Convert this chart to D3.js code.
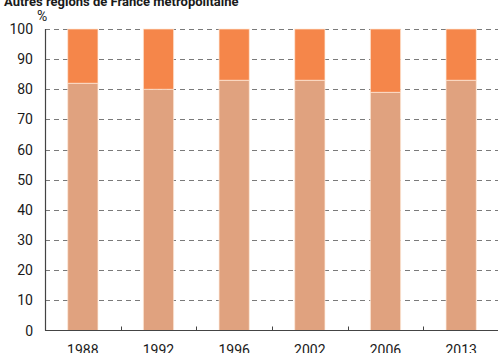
<!DOCTYPE html>
<html>
<head>
<meta charset="utf-8">
<script src="https://cdn.jsdelivr.net/npm/d3@7"></script>
<style>
  body { margin: 0; background: #fff; }
  svg { display: block; font-family: Roboto, Arial, sans-serif; }
</style>
</head>
<body>
<div id="chart"></div>
<script>
// categories and series values (%)
const years = ['1988', '1992', '1996', '2002', '2006', '2013'];
const lowerShare = [82, 80, 83, 83, 79, 83];
const upperShare = [18, 20, 17, 17, 21, 17];
const yTicks = [0, 10, 20, 30, 40, 50, 60, 70, 80, 90, 100];

const width = 498, height = 353;
const margin = { top: 29, right: -1, bottom: 22, left: 45 };

const svg = d3.select('#chart').append('svg')
  .attr('width', width)
  .attr('height', height);

const x = d3.scaleBand()
  .domain(years)
  .range([margin.left, width - margin.right])
  .paddingInner(0.6).paddingOuter(0.3);

const y = d3.scaleLinear()
  .domain([0, 100])
  .range([height - margin.bottom - 0.5, margin.top]);

// title (cut at the top, as in the original)
svg.append('text')
  .attr('x', 4)
  .attr('y', 6)
  .attr('font-size', 13)
  .attr('font-weight', 'bold')
  .attr('fill', '#1a1a1a')
  .text('Autres régions de France métropolitaine');

svg.append('text')
  .attr('x', 37)
  .attr('y', 21)
  .attr('font-size', 14)
  .attr('fill', '#1a1a1a')
  .text('%');

// gridlines
svg.append('g')
  .selectAll('line')
  .data(yTicks.filter(d => d > 0))
  .enter().append('line')
  .attr('x1', margin.left)
  .attr('x2', width)
  .attr('y1', d => Math.round(y(d)) + 0.5)
  .attr('y2', d => Math.round(y(d)) + 0.5)
  .attr('stroke', '#7a7a7a')
  .attr('stroke-width', 1)
  .attr('stroke-dasharray', '5,4');

// stacked bars
const stackData = years.map((yr, i) => ({ year: yr, lower: lowerShare[i], upper: upperShare[i] }));
const series = d3.stack().keys(['lower', 'upper'])(stackData);
const colors = { lower: '#E0A27F', upper: '#F5864A' };

svg.append('g')
  .selectAll('g')
  .data(series)
  .enter().append('g')
  .attr('fill', d => colors[d.key])
  .selectAll('rect')
  .data(d => d)
  .enter().append('rect')
  .attr('x', d => x(d.data.year))
  .attr('y', d => y(d[1]))
  .attr('width', x.bandwidth())
  .attr('height', d => y(d[0]) - y(d[1]))
  .attr('stroke', 'rgba(255,235,220,0.7)')
  .attr('stroke-width', 1);

// y axis labels
svg.append('g')
  .selectAll('text')
  .data(yTicks)
  .enter().append('text')
  .attr('x', 33)
  .attr('y', d => y(d) + 5)
  .attr('text-anchor', 'end')
  .attr('font-size', 14)
  .attr('fill', '#1a1a1a')
  .text(d => d);

// left axis line
svg.append('line')
  .attr('x1', margin.left + 0.5).attr('x2', margin.left + 0.5)
  .attr('y1', y(100)).attr('y2', y(0))
  .attr('stroke', '#444').attr('stroke-width', 1.2);

// bottom axis with ticks between bands
const bottom = y(0);
svg.append('line')
  .attr('x1', margin.left).attr('x2', width)
  .attr('y1', bottom).attr('y2', bottom)
  .attr('stroke', '#444').attr('stroke-width', 1.2);

svg.append('g')
  .selectAll('line')
  .data(years.slice(1))
  .enter().append('line')
  .attr('x1', d => Math.round(x(d) - x.bandwidth() * 0.75) + 0.5)
  .attr('x2', d => Math.round(x(d) - x.bandwidth() * 0.75) + 0.5)
  .attr('y1', bottom)
  .attr('y2', bottom - 4)
  .attr('stroke', '#444');

svg.append('g')
  .selectAll('text')
  .data(years)
  .enter().append('text')
  .attr('x', d => x(d) + x.bandwidth() / 2)
  .attr('y', 355)
  .attr('text-anchor', 'middle')
  .attr('font-size', 14)
  .attr('fill', '#1a1a1a')
  .text(d => d);
</script>
</body>
</html>
